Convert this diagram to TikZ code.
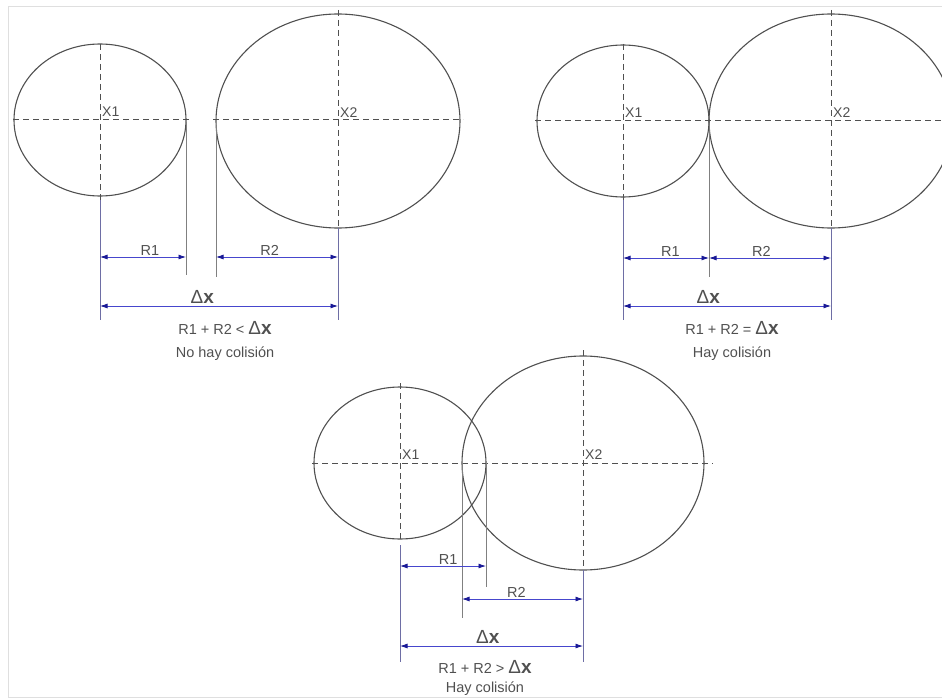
\documentclass[tikz,border=0pt]{standalone}
\usepackage{fontspec}
\setmainfont{Liberation Sans}
\usetikzlibrary{positioning,arrows.meta}

\definecolor{dimblue}{RGB}{70,70,205}
\definecolor{tipblue}{RGB}{25,25,150}
\definecolor{extblue}{RGB}{110,110,165}
\definecolor{inkgray}{RGB}{80,80,80}
\newcommand{\dX}{{\fontsize{19}{19}\selectfont Δ\bfseries x}}

\begin{document}
\begin{tikzpicture}[
    x=1pt, y=-1pt,
    rim/.style={draw=inkgray, line width=1.1pt},
    axis/.style={draw=inkgray, line width=1pt, dash pattern=on 6pt off 4pt},
    ext/.style={draw=extblue, line width=1pt},
    extrim/.style={draw=gray, line width=1pt},
    dim/.style={{Latex[length=7.5pt,width=5pt,color=tipblue]}-{Latex[length=7.5pt,width=5pt,color=tipblue]},
                draw=dimblue, line width=0.8pt},
    lbl/.style={font=\fontsize{14.5}{16}\selectfont, text=inkgray, inner sep=1pt},
    clab/.style={font=\fontsize{14}{15}\selectfont, text=inkgray, inner sep=0pt, anchor=south west},
    dlab/.style={font=\fontsize{19}{19}\selectfont, text=inkgray, inner sep=2pt},
  ]
    \useasboundingbox (0,0) rectangle (942,698);
    \draw[gray!25, line width=1pt] (942,7) -- (8,7) -- (8,697) -- (942,697);

    % Panel A: no collision
    \coordinate (a1) at (100,120);
    \coordinate (a2) at (338,121);
    \draw[rim] (a1) ellipse [x radius=86pt, y radius=76pt];
    \draw[rim] (a2) ellipse [x radius=122pt, y radius=107pt];
    \draw[axis] (13,120) -- (190,120);
    \draw[axis] (213,120) -- (463,120);
    \draw[axis] (100,44) -- (100,200);
    \draw[axis] (338,10) -- (338,228);
    \node[clab] (a1lab) at ([xshift=2pt,yshift=3pt]a1) {X1};
    \node[clab] (a2lab) at ([xshift=2pt,yshift=3pt]a2) {X2};
    \draw[ext] (100,200) -- (100,320);
    \draw[extrim] (186,122) -- (186,275);
    \draw[extrim] (216,125) -- (216,277);
    \draw[ext] (338,228) -- (338,320);
    \coordinate (aR1s) at (100,257); \coordinate (aR1e) at (186,257);
    \coordinate (aR2s) at (216,257); \coordinate (aR2e) at (338,257);
    \coordinate (aDs) at (100,306);  \coordinate (aDe) at (338,306);
    \draw[dim] (aR1s) -- node[lbl,above,pos=0.58] (aR1lab) {R1} (aR1e);
    \draw[dim] (aR2s) -- node[lbl,above,pos=0.44] (aR2lab) {R2} (aR2e);
    \draw[dim] (aDs) -- node[dlab,above,pos=0.43] (aDlab) {\dX} (aDe);
    \node[lbl] (aEq) at (225,328) {R1 + R2 < \dX};
    \node[lbl] (aVerdict) at (225,354) {No hay colisión};

    % Panel B: touching
    \coordinate (b1) at (623,121);
    \coordinate (b2) at (831,121);
    \draw[rim] (b1) ellipse [x radius=86pt, y radius=76pt];
    \draw[rim] (b2) ellipse [x radius=122pt, y radius=107pt];
    \draw[axis] (535,121) -- (945,121);
    \draw[axis] (623,44) -- (623,200);
    \draw[axis] (831,10) -- (831,228);
    \node[clab] (b1lab) at ([xshift=2pt,yshift=3pt]b1) {X1};
    \node[clab] (b2lab) at ([xshift=2pt,yshift=3pt]b2) {X2};
    \draw[ext] (623,200) -- (623,320);
    \draw[extrim] (709,125) -- (709,277);
    \draw[ext] (831,228) -- (831,320);
    \coordinate (bR1s) at (623,258); \coordinate (bR1e) at (709,258);
    \coordinate (bR2e) at (831,258);
    \coordinate (bDs) at (623,306);  \coordinate (bDe) at (831,306);
    \draw[dim] (bR1s) -- node[lbl,above,pos=0.55] (bR1lab) {R1} (bR1e);
    \draw[dim] (bR1e) -- node[lbl,above,pos=0.43] (bR2lab) {R2} (bR2e);
    \draw[dim] (bDs) -- node[dlab,above,pos=0.41] (bDlab) {\dX} (bDe);
    \node[lbl] (bEq) at (732,328) {R1 + R2 = \dX};
    \node[lbl] (bVerdict) at (732,354) {Hay colisión};

    % Panel C: overlapping
    \coordinate (c1) at (400,463);
    \coordinate (c2) at (583,463);
    \draw[rim] (c1) ellipse [x radius=86pt, y radius=76pt];
    \draw[rim] (c2) ellipse [x radius=121pt, y radius=107pt];
    \draw[axis] (312,463) -- (713,463);
    \draw[axis] (400,383) -- (400,542);
    \draw[axis] (583,350) -- (583,570);
    \node[clab] (c1lab) at ([xshift=2pt,yshift=3pt]c1) {X1};
    \node[clab] (c2lab) at ([xshift=2pt,yshift=3pt]c2) {X2};
    \draw[ext] (400,545) -- (400,662);
    \draw[extrim] (462,463) -- (462,618);
    \draw[extrim] (486,463) -- (486,587);
    \draw[ext] (583,570) -- (583,662);
    \coordinate (cR1s) at (400,566); \coordinate (cR1e) at (486,566);
    \coordinate (cR2s) at (462,599); \coordinate (cR2e) at (583,599);
    \coordinate (cDs) at (400,646);  \coordinate (cDe) at (583,646);
    \draw[dim] (cR1s) -- node[lbl,above,pos=0.56] (cR1lab) {R1} (cR1e);
    \draw[dim] (cR2s) -- node[lbl,above,pos=0.45] (cR2lab) {R2} (cR2e);
    \draw[dim] (cDs) -- node[dlab,above,pos=0.48] (cDlab) {\dX} (cDe);
    \node[lbl] (cEq) at (485,667) {R1 + R2 > \dX};
    \node[lbl] (cVerdict) at (485,689) {Hay colisión};
\end{tikzpicture}
\end{document}
